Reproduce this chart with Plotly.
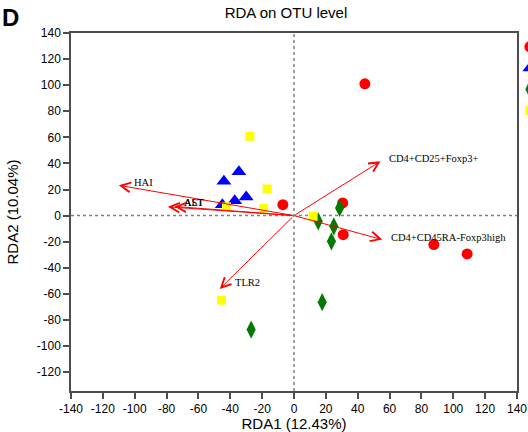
import plotly.graph_objects as go

# ---- data ----
groups = ["Group A", "Group B", "Group C", "Group D"]
red_x = [-7, 30.6, 30.9, 44.5, 87.8, 108.7]
red_y = [8.4, 9.7, -14.6, 101, -22.2, -29.4]
blue_x = [-34.6, -44.0, -30.0, -37.2, -45.0]
blue_y = [33.7, 26.3, 14.3, 11.3, 8.4]
green_x = [28.6, 15.2, 25.0, 23.5, 17.7, -26.9]
green_y = [5.9, -4.4, -8.2, -19.7, -66.4, -87.4]
yellow_x = [-27.7, -16.8, -42.4, -19.0, 12.0, -45.5]
yellow_y = [60.8, 20.4, 6.7, 5.4, -0.5, -64.9]

env_names = ["HAI", "AST", "ALT", "CD4+CD25+Foxp3+", "CD4+CD45RA-Foxp3high", "TLR2"]
env_x = [-110.0, -79.2, -75.0, 54.3, 55.4, -46.6]
env_y = [23.2, 6.7, 7.0, 41.6, -18.4, -56.2]
label_x = [-101.6, -70.2, -70.2, 58.1, 59.5, -38.2]
label_y = [25.5, 10.2, 10.2, 43.7, -17.1, -51.6]

tick_vals_x = list(range(-140, 141, 20))
tick_vals_y = list(range(-120, 141, 20))

title_text = "RDA on OTU level"
x_title = "RDA1 (12.43%)"
y_title = "RDA2 (10.04%)"

# ---- figure ----
fig = go.Figure()
series = [
    (red_x, red_y, "circle", "#FF0000", 11),
    (blue_x, blue_y, "triangle-up", "#0000FF", 13),
    (green_x, green_y, "diamond-tall", "#007A00", 13),
    (yellow_x, yellow_y, "square", "#FFFF00", 9),
]
for name, (xs, ys, sym, col, sz) in zip(groups, series):
    fig.add_trace(go.Scatter(
        x=xs, y=ys, mode="markers", name=name,
        marker=dict(symbol=sym, color=col, size=sz, line=dict(width=0)),
        cliponaxis=False,
    ))

# dotted reference lines through the origin
fig.add_shape(type="line", xref="x", yref="paper", x0=0, x1=0, y0=0, y1=1,
              line=dict(color="#808080", width=1.5, dash="dot"), layer="below")
fig.add_shape(type="line", xref="paper", yref="y", x0=0, x1=1, y0=0, y1=0,
              line=dict(color="#808080", width=1.5, dash="dot"), layer="below")

# environmental vectors
for nm, ex, ey, lx, ly in zip(env_names, env_x, env_y, label_x, label_y):
    fig.add_annotation(
        x=ex, y=ey, ax=0, ay=0, xref="x", yref="y", axref="x", ayref="y",
        text="", showarrow=True, arrowhead=5, arrowsize=1.9, arrowwidth=1,
        arrowcolor="#FF0000", standoff=0, startstandoff=0,
    )
    fig.add_annotation(
        x=lx, y=ly, xref="x", yref="y", text=nm, showarrow=False,
        xanchor="left", yanchor="middle",
        font=dict(family="Liberation Serif", size=10.5, color="#000000"),
    )

# panel letter
fig.add_annotation(
    x=-71 / 446, y=(391 - 17) / 358, xref="paper", yref="paper", text="<b>D</b>",
    showarrow=False, xanchor="left", yanchor="middle",
    font=dict(family="Liberation Sans", size=24, color="#000000"),
)

axis_common = dict(
    showgrid=False, zeroline=False, showline=True, mirror=True,
    linecolor="#4d4d4d", linewidth=1.5,
    ticks="outside", ticklen=6, tickwidth=1.5, tickcolor="#4d4d4d",
    tickfont=dict(family="Liberation Sans", size=12, color="#000000"),
)

fig.update_layout(
    width=528, height=432,
    margin=dict(l=71, r=11, t=33, b=41, autoexpand=False),
    paper_bgcolor="white", plot_bgcolor="white",
    title=dict(text=title_text, x=0.482, xref="paper", y=1 - 13 / 432, yref="container",
               xanchor="center", yanchor="middle",
               font=dict(family="Liberation Sans", size=15, color="#000000")),
    xaxis=dict(range=[-140, 140], tickvals=tick_vals_x,
               ticktext=[str(v) for v in tick_vals_x],
               title=dict(text=x_title, standoff=0,
                          font=dict(family="Liberation Sans", size=15, color="#000000")),
               **axis_common),
    yaxis=dict(range=[-134.5, 140], tickvals=tick_vals_y,
               ticktext=[str(v) for v in tick_vals_y],
               title=dict(text=y_title, standoff=15,
                          font=dict(family="Liberation Sans", size=15, color="#000000")),
               **axis_common),
    legend=dict(x=0.984, y=1.005, xanchor="left", yanchor="top",
                bgcolor="rgba(0,0,0,0)", borderwidth=0,
                font=dict(family="Liberation Sans", size=14, color="#000000")),
    showlegend=True,
)

fig.write_html(
    "out.html",
    config={"displayModeBar": False},
    post_script="document.body.style.margin='0px';document.body.style.overflow='hidden';",
)
